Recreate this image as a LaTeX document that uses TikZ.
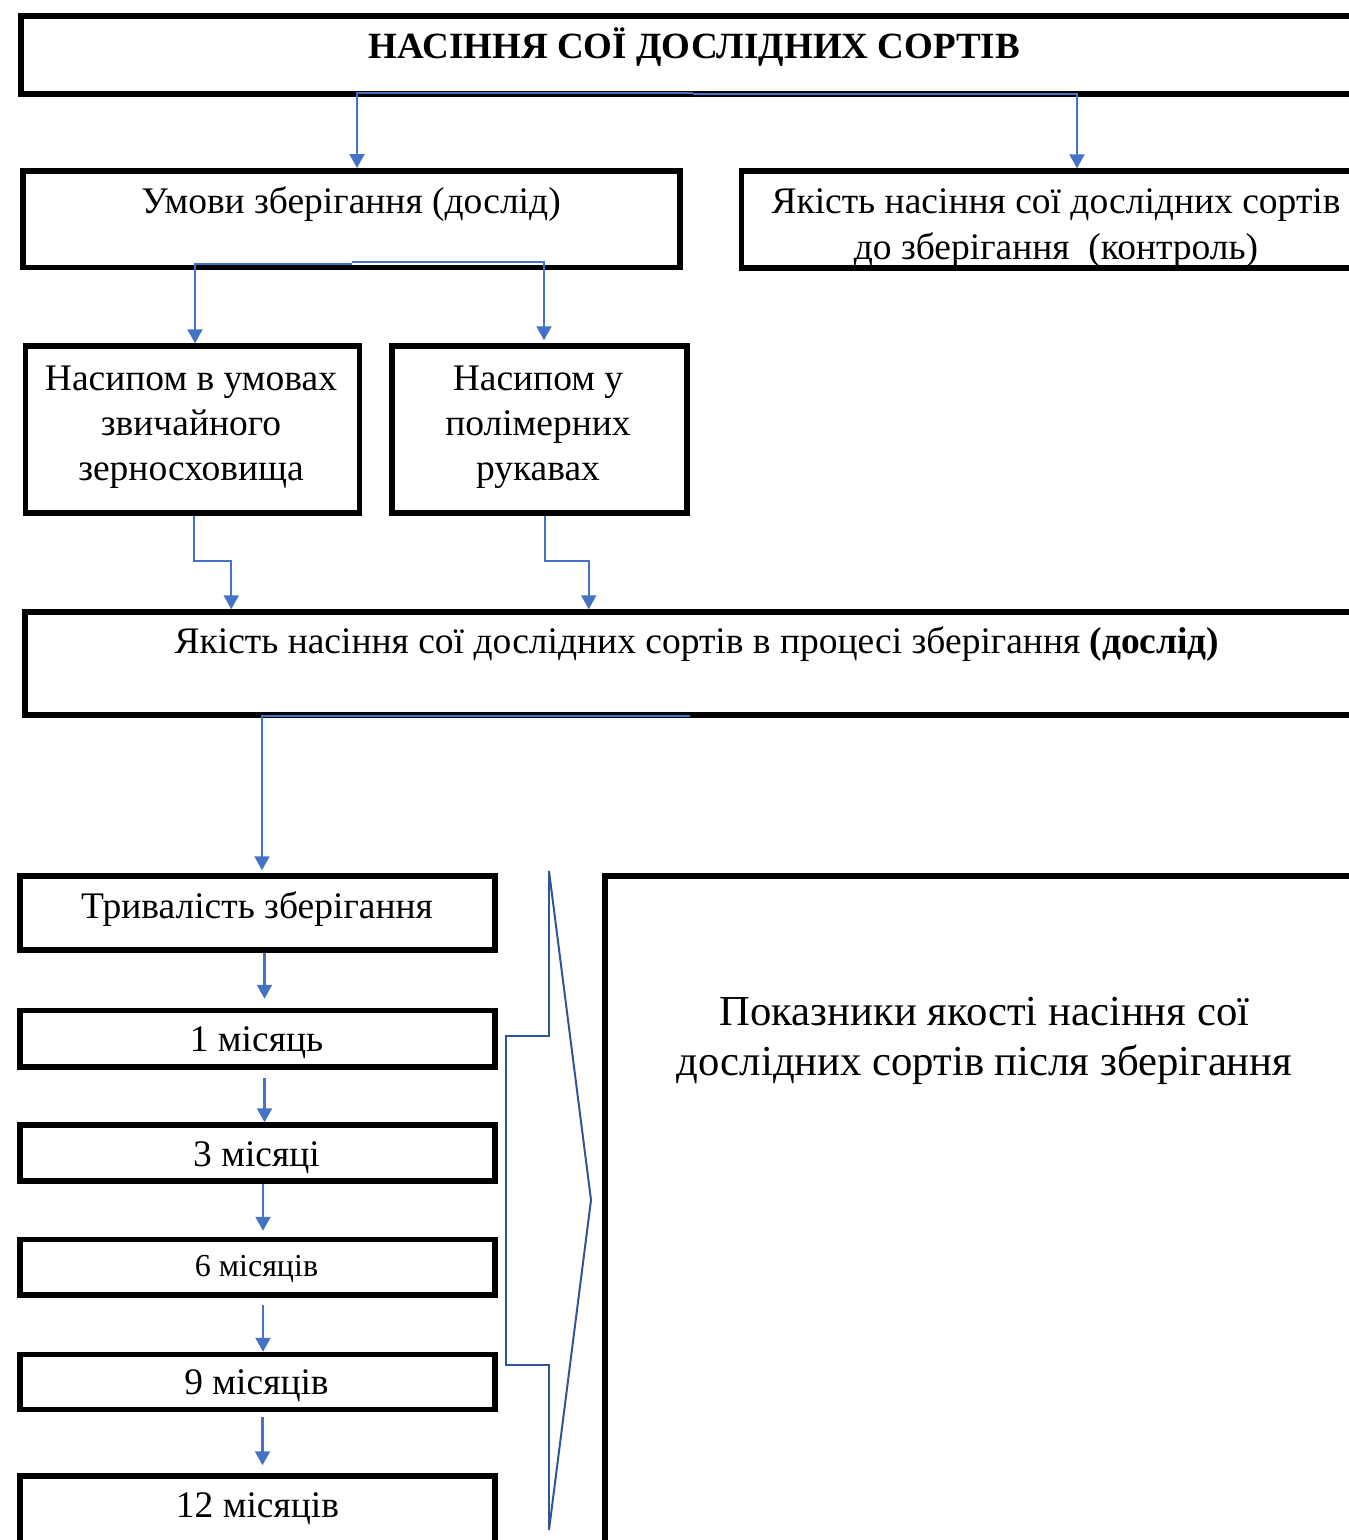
\documentclass[tikz,border=0pt]{standalone}
\usepackage{fontspec}
\setmainfont{Liberation Serif}
\usepackage{xcolor}
\usetikzlibrary{arrows.meta,positioning}
\definecolor{linkblue}{HTML}{4472C4}
\definecolor{bracketblue}{HTML}{2F5597}

\begin{document}
\begin{tikzpicture}[x=1pt,y=-1pt,
  box/.style={draw,line width=5.5pt,rectangle,inner sep=0pt},
  lbl/.style={font=\fontsize{37.5}{45}\selectfont,align=center,inner sep=0pt,anchor=base},
  link/.style={draw=linkblue,line width=2.2pt,-{Triangle[width=15pt,length=14pt]}}]
  \useasboundingbox (0,0) rectangle (1349,1540);
  \clip (0,0) rectangle (1349,1540);
  % boxes
  \node[box,minimum width=1344pt,minimum height=78pt] (seed) at (693,55) {};
  \node[box,minimum width=657pt,minimum height=96.5pt] (cond) at (351.5,219) {};
  \node[box,minimum width=640pt,minimum height=97pt] (ctrl) at (1061.5,219.5) {};
  \node[box,minimum width=334pt,minimum height=167pt] (heap1) at (192.5,429.5) {};
  \node[box,minimum width=295pt,minimum height=167pt] (heap2) at (539.5,429.5) {};
  \node[box,minimum width=1330pt,minimum height=103pt] (trial) at (690,663.5) {};
  \node[box,minimum width=475pt,minimum height=74pt] (dur) at (257.5,913) {};
  \node[box,minimum width=475pt,minimum height=56.5pt] (m1) at (257.5,1038.75) {};
  \node[box,minimum width=475pt,minimum height=56pt] (m3) at (257.5,1153) {};
  \node[box,minimum width=475pt,minimum height=55.5pt] (m6) at (257.5,1267.25) {};
  \node[box,minimum width=475pt,minimum height=55pt] (m9) at (257.5,1382) {};
  \node[box,minimum width=475pt,minimum height=84pt] (m12) at (257.5,1518) {};
  \node[box,minimum width=775pt,minimum height=684pt] (result) at (992.5,1218) {};
  % texts (multi-line labels sit on their last baseline)
  \node[lbl,font=\fontsize{37}{45}\selectfont\bfseries] (seedlbl) at (694.5,58) {НАСІННЯ СОЇ ДОСЛІДНИХ СОРТІВ};
  \node[lbl] (condlbl) at (351,213) {Умови зберігання (дослід)};
  \node[lbl,font=\fontsize{37.5}{46}\selectfont] (ctrllbl) at (1056,259) {Якість насіння сої дослідних сортів\\до зберігання\ \ (контроль)};
  \node[lbl] (heap1lbl) at (191,480) {Насипом в умовах\\звичайного\\зерносховища};
  \node[lbl] (heap2lbl) at (538,480) {Насипом у\\полімерних\\рукавах};
  \node[lbl] (triallbl) at (697,653) {Якість насіння сої дослідних сортів в процесі зберігання \textbf{(дослід)}};
  \node[lbl] (durlbl) at (257,918.5) {Тривалість зберігання};
  \node[lbl] (m1lbl) at (256.5,1051) {1 місяць};
  \node[lbl] (m3lbl) at (256.5,1166) {3 місяці};
  \node[lbl,font=\fontsize{32}{36}\selectfont] (m6lbl) at (256.5,1276) {6 місяців};
  \node[lbl] (m9lbl) at (256.5,1394) {9 місяців};
  \node[lbl] (m12lbl) at (257.5,1517) {12 місяців};
  \node[lbl,font=\fontsize{42.7}{50}\selectfont] (resultlbl) at (984.5,1075) {Показники якості насіння сої\\дослідних сортів після зберігання};
  % connectors
  \draw[link] ([yshift=4pt]seed.south) -| ([xshift=5.5pt]cond.north);
  \draw[link] ([yshift=3pt]seed.south) -| ([xshift=15.5pt]ctrl.north);
  \draw[link] ([yshift=6pt]cond.south) -| ([xshift=2.5pt]heap1.north);
  \draw[link,shorten >=3pt] ([yshift=8pt]cond.south) -| ([xshift=4.5pt]heap2.north);
  \draw[link] ([xshift=1.5pt]heap1.south) -- ++(0,45) -| ([xshift=209pt]trial.north west);
  \draw[link] ([xshift=5.5pt]heap2.south) -- ++(0,45) -| ([xshift=566.5pt]trial.north west);
  \draw[link,shorten >=3pt] ([yshift=2pt]trial.south) -| ([xshift=4.5pt]dur.north);
  \draw[link,shorten >=9pt] ([xshift=7pt]dur.south) -- ([xshift=7pt]m1.north);
  \draw[link,shorten <=8pt] ([xshift=7pt]m1.south) -- ([xshift=7pt]m3.north);
  \draw[link,shorten >=6pt] ([xshift=5.5pt]m3.south) -- ([xshift=5.5pt]m6.north);
  \draw[link,shorten <=7pt] ([xshift=5.5pt]m6.south) -- ([xshift=5.5pt]m9.north);
  \draw[link,shorten <=5pt,shorten >=8pt] ([xshift=5pt]m9.south) -- ([xshift=5pt]m12.north);
  % bracket and chevron
  \draw[bracketblue,line width=2pt] (549,871) -- (549,1036) -- (506,1036) -- (506,1365) -- (549,1365) -- (549,1530);
  \draw[bracketblue,line width=2pt] (549,871) -- (591,1200) -- (549,1530);
\end{tikzpicture}
\end{document}
